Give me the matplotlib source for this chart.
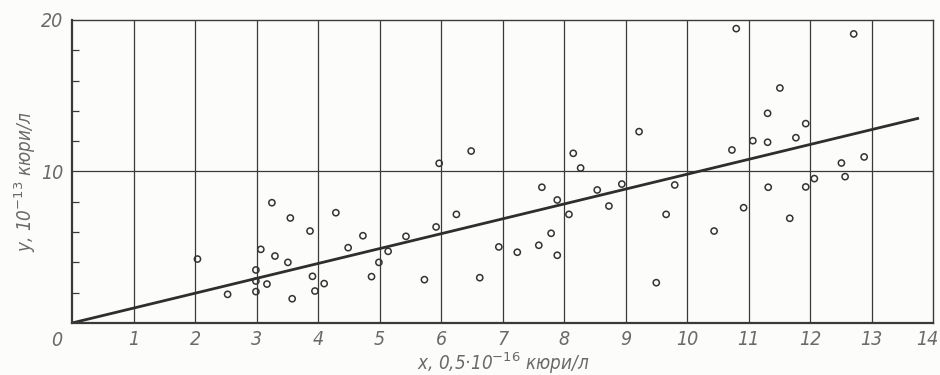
import matplotlib
matplotlib.use("Agg")
import matplotlib.pyplot as plt
import matplotlib.transforms as mtransforms

# measured points (x in 0.5e-16 Ci/l, y in 1e-13 Ci/l)
x_pts = [2.04, 2.53, 3.25, 3.55, 3.87, 3.07, 3.30, 3.51, 2.99, 2.99, 3.17, 2.99, 3.58, 3.91, 3.95,
         4.10, 4.29, 4.49, 4.73, 4.87, 4.99, 5.14, 5.43, 5.73, 5.92, 5.97, 6.25, 6.49, 6.63, 6.94,
         7.24, 7.59, 7.64, 7.79, 7.89, 7.89, 8.08, 8.15, 8.27, 8.54, 8.73, 8.94,
         9.22, 9.50, 9.66, 9.80, 10.44, 10.73, 10.80, 10.92, 11.07, 11.31, 11.31, 11.32, 11.51,
         11.67, 11.77, 11.93, 11.93, 12.07, 12.51, 12.57, 12.71, 12.88]
y_pts = [4.22, 1.89, 7.94, 6.93, 6.07, 4.86, 4.42, 4.00, 3.50, 2.77, 2.57, 2.07, 1.60, 3.08, 2.11,
         2.60, 7.28, 4.97, 5.76, 3.06, 4.00, 4.73, 5.72, 2.86, 6.34, 10.54, 7.17, 11.35, 2.99, 5.02,
         4.67, 5.13, 8.96, 5.92, 8.12, 4.47, 7.17, 11.20, 10.23, 8.78, 7.72, 9.17,
         12.63, 2.66, 7.17, 9.11, 6.07, 11.42, 19.43, 7.61, 12.03, 13.84, 11.93, 8.96, 15.51,
         6.91, 12.23, 13.16, 8.98, 9.53, 10.56, 9.66, 19.08, 10.96]

# fitted line end points
line_x = [0.0, 13.75]
line_y = [0.0, 13.5]

x_ticks = list(range(1, 15))
y_ticks = [10, 20]
y_minor = [2, 4, 6, 8, 12, 14, 16, 18]

txt = dict(family="DejaVu Sans", style="italic", stretch="condensed", color="#6a6a6a")
ink = "#3a3a3a"

plt.rcParams["mathtext.default"] = "it"

fig = plt.figure(figsize=(9.4, 3.75), dpi=100)
fig.patch.set_facecolor("#fcfcfa")
ax = fig.add_axes([0.0766, 0.1387, 0.9160, 0.8080])
ax.set_facecolor("#fcfcfa")

ax.set_xlim(0, 14)
ax.set_ylim(0, 20)

for xv in x_ticks[:-1]:
    ax.axvline(xv, color=ink, lw=0.9, zorder=1)
ax.axhline(10, color=ink, lw=0.9, zorder=1)

ax.plot(line_x, line_y, color="#2e2e2e", lw=2.0, zorder=2)
ax.scatter(x_pts, y_pts, s=20, facecolors="none", edgecolors="#333333", linewidths=1.1, zorder=3)

for s in ax.spines.values():
    s.set_color(ink)
    s.set_linewidth(1.0)
ax.spines["left"].set_linewidth(1.6)
ax.spines["bottom"].set_linewidth(1.6)

ax.set_xticks(x_ticks)
ax.set_xticklabels([str(v) for v in x_ticks])
ax.set_yticks(y_ticks)
ax.set_yticklabels([str(v) for v in y_ticks])
ax.set_yticks(y_minor, minor=True)
ax.tick_params(axis="x", length=0, pad=5, labelsize=14)
ax.tick_params(axis="y", which="major", length=0, pad=6, labelsize=14)
ax.tick_params(axis="y", which="minor", direction="in", length=5, width=0.9, color=ink)
for lab in ax.get_xticklabels() + ax.get_yticklabels():
    lab.set_fontfamily(txt["family"])
    lab.set_fontstyle("italic")
    lab.set_fontstretch("condensed")
    lab.set_color(txt["color"])
# keep the last label inside the figure
last = ax.get_xticklabels()[-1]
last.set_transform(last.get_transform() + mtransforms.ScaledTranslation(-6 / 100, 0, fig.dpi_scale_trans))

ax.text(-0.25, -0.55, "0", ha="center", va="top", fontsize=14, **txt)

fig.text(0.535, 0.03, r"x, 0,5·10$^{-16}$ кюри/л", ha="center", va="center", fontsize=13.5, **txt)
fig.text(0.027, 0.515, r"y, 10$^{-13}$ кюри/л", ha="center", va="center", rotation=90, fontsize=13.5, **txt)

fig.savefig("out.png", dpi=100, facecolor=fig.get_facecolor())
